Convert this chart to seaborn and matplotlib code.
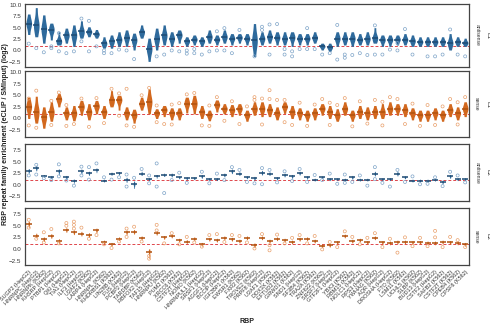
import pandas as pd
import matplotlib
matplotlib.use("Agg")
import matplotlib.pyplot as plt
import seaborn as sns

# RBP / cell line on the x axis
rbps = ["SUGP2 (HepG2)", "HNRNPC (HepG2)", "HNRNPK (K562)", "KHSRP (HepG2)", "PTBP1 (HepG2)",
        "QKI (HepG2)", "TIA1 (HepG2)", "ILF3 (HepG2)", "U2AF2 (K562)", "LARP4 (HepG2)",
        "HNRNPL (K562)", "KHDRBS1 (K562)", "LIN28B (K562)", "FUS (HepG2)", "PCBP2 (HepG2)",
        "TARDBP (K562)", "RBFOX2 (HepG2)", "TAF15 (HepG2)", "HNRNPU (K562)", "PUM2 (K562)",
        "XRCC6 (K562)", "CSTF2T (HepG2)", "NONO (K562)", "HNRNPUL1 (HepG2)", "SRSF1 (HepG2)",
        "AGGF1 (HepG2)", "BCCIP (HepG2)", "IGF2BP1 (K562)", "EWSR1 (K562)", "FXR2 (K562)",
        "TROVE2 (K562)", "PRPF8 (HepG2)", "U2AF1 (K562)", "DDX3X (K562)", "EFTUD2 (K562)",
        "GRWD1 (K562)", "SND1 (HepG2)", "SF3B4 (K562)", "TRA2A (K562)", "ZNF622 (K562)",
        "SRSF7 (HepG2)", "GTF2F1 (HepG2)", "YBX3 (K562)", "RBM15 (K562)", "NOLC1 (HepG2)",
        "RPS3 (HepG2)", "YWHAG (K562)", "AQR (HepG2)", "DROSHA (HepG2)", "FTO (K562)",
        "LSM11 (K562)", "UCHL5 (K562)", "SLBP (K562)", "BUD13 (HepG2)", "CSTF2 (HepG2)",
        "SAFB2 (K562)", "CSTF2T (K562)", "CPEB4 (K562)", "CPSF6 (K562)"]

# L1 antisense: median, lower / upper end of the dense body, loose points
l1_as_med = [5.9, 5.6, 4.7, 4.5, 2.1, 3.3, 3.3, 4.2, 4.1, 3.6, 1.6, 2.0, 2.4, 2.8, 2.2, 4.0, 0.3, 2.6, 3.3,
             2.6, 3.3, 2.0, 2.4, 2.0, 3.0, 2.4, 3.0, 2.6, 2.8, 2.6, 2.2, 2.6, 3.0, 2.8, 2.6, 2.8, 2.6, 2.6, 2.8, 0.9,
             0.7, 2.6, 2.6, 2.6, 2.4, 2.6, 2.8, 2.3, 2.3, 2.4, 2.4, 2.1, 1.9, 1.9, 1.9, 1.9, 1.7, 1.9, 1.7]
l1_as_lo = [3.5, 3.0, 1.6, 2.3, 1.2, 1.6, 0.9, 2.7, 3.0, 2.7, 0.5, 0.5, 0.9, 0.9, 0.1, 2.7, -2.4, 0.1, 1.2,
            0.9, 1.6, 0.9, 1.2, 0.9, 1.6, 1.2, 1.6, 1.2, 1.6, 1.2, -1.3, 1.2, 1.6, 1.2, 1.2, 0.9, 1.2, 1.2, 1.6, 0.1,
            -0.2, 0.9, 1.2, 0.9, 1.2, 1.2, 1.6, 0.9, 0.9, 1.2, 1.2, 0.9, 0.9, 0.9, 0.9, 0.9, 0.1, 0.9, 0.9]
l1_as_hi = [8.0, 9.4, 7.8, 6.0, 4.1, 4.9, 5.6, 6.5, 5.2, 4.6, 3.0, 3.4, 4.1, 4.5, 3.8, 5.6, 2.7, 4.9, 5.6,
            4.1, 4.5, 3.0, 3.4, 3.0, 4.5, 3.4, 4.5, 3.7, 3.7, 3.7, 5.9, 4.1, 4.5, 4.1, 4.1, 4.1, 3.7, 3.7, 4.1, 1.6,
            1.6, 4.1, 4.1, 4.1, 3.7, 4.1, 5.0, 3.4, 3.4, 3.4, 3.7, 3.4, 3.0, 3.0, 3.0, 3.0, 3.7, 3.0, 2.7]
l1_as_out = [[1.5], [0.5], [-0.4], [0.9, 0.5], [3.8, -0.2], [-0.6], [-0.2], [7.0, 2.0], [6.5, -0.2], [0.9],
             [0.0, -0.6], [-0.6], [0.2], [0.0], [-1.9], [], [], [-1.3], [-0.9], [0.0],
             [-0.2], [0.0, -0.7], [0.3, -0.6], [-0.9], [-0.2], [4.2, 0.0], [4.9, 0.0], [-0.6], [4.5], [],
             [-1.3], [5.2, 4.5], [5.7, -0.9], [5.8], [0.3, -0.9], [-0.2, -1.3], [0.3], [4.9, 0.3], [0.3], [-0.9],
             [-0.6], [5.6, -2.0], [-0.9, -1.6], [-1.0], [-0.6], [-1.0], [5.5, -0.9], [-0.9], [0.2], [1.6, 0.0],
             [4.7], [-0.9], [], [-1.3], [-1.3], [-0.9], [4.6], [-0.9], [-1.3]]

# L1 sense
l1_s_med = [2.5, 1.5, 0.3, 1.4, 4.1, 1.1, 1.1, 2.5, 1.4, 2.6, 1.4, 3.9, 3.9, 1.1, 0.7, 3.2, 3.6, 1.1, 1.8,
            1.1, 1.1, 3.2, 3.2, 1.4, 0.7, 2.9, 2.1, 1.8, 2.1, 0.7, 2.1, 2.1, 1.8, 1.1, 2.5, 1.4, 1.1, 0.7, 1.1, 2.1,
            1.4, 0.7, 2.1, 0.7, 1.4, 1.1, 1.4, 1.4, 2.1, 2.1, 1.8, 1.1, 0.7, 0.7, 1.1, 0.7, 1.8, 1.1, 2.1]
l1_s_lo = [0.0, -1.0, -2.1, -0.6, 2.5, -0.3, -0.5, 0.7, -0.3, 1.0, 0.0, 2.5, 1.8, -0.3, -1.0, 1.8, 1.0, 0.0, 0.4,
           -0.3, -0.3, 1.2, 1.0, 0.0, -0.5, 1.4, 1.0, 0.4, 0.7, -0.6, 0.7, 0.4, 0.4, -0.3, 1.1, 0.0, -0.3, -0.6, -0.3, 0.7,
           0.0, -0.6, 0.7, -0.6, 0.0, -0.3, 0.0, 0.0, 0.7, 0.7, 0.4, -0.3, -0.6, -0.6, -0.3, -0.6, 0.4, -0.3, 0.4]
l1_s_hi = [4.6, 4.8, 2.5, 3.6, 5.4, 2.5, 2.8, 3.9, 3.2, 3.9, 2.8, 6.0, 5.0, 2.5, 2.0, 4.6, 6.4, 2.1, 2.8,
           2.3, 2.3, 4.6, 5.0, 2.8, 1.8, 4.0, 3.2, 3.0, 3.2, 1.8, 3.6, 3.6, 3.2, 2.5, 3.6, 2.8, 2.3, 1.8, 2.3, 3.2,
           2.8, 2.1, 3.6, 1.8, 2.8, 2.5, 2.8, 3.2, 3.6, 3.2, 3.2, 2.3, 1.8, 1.8, 2.3, 1.8, 3.2, 2.5, 3.6]
l1_s_out = [[4.3, -1.5], [6.0, -2.0], [], [3.8, -1.4], [5.6], [2.9, -1.6], [-1.2], [4.3], [-1.8], [4.4],
            [-1.0], [6.4], [5.4, 0.6], [6.4, -1.5], [-1.8], [5.0], [6.6], [2.8, -0.8], [-1.2], [3.0, -1.3],
            [3.3], [5.2], [5.5], [-1.5], [2.8, -1.6], [4.6], [-0.5], [3.7], [-1.2], [2.6],
            [4.6, 4.0], [4.3, -1.3], [6.1, 4.2], [4.0], [4.0, -0.8], [-1.4], [3.4], [-1.6], [3.0], [4.2],
            [3.4, -1.4], [2.9], [4.4], [-1.7], [3.7], [-1.1], [4.0], [3.6, -1.5], [4.6], [4.2],
            [-1.2], [3.2], [-1.6], [2.9], [-1.4], [2.6], [4.2], [3.5, -1.3], [4.6]]

# L2 antisense
l2_as_med = [3.0, 3.6, 1.9, 1.6, 2.9, 1.6, 0.9, 2.9, 2.5, 3.2, 0.9, 2.4, 2.5, 1.1, 0.1, 2.4, 1.2, 1.9, 2.1,
             2.1, 1.6, 1.4, 1.4, 1.8, 1.2, 1.2, 2.1, 2.9, 2.4, 1.6, 1.4, 2.6, 2.4, 1.4, 2.1, 1.8, 2.5, 1.6, 1.1, 1.6,
             1.2, 1.2, 1.1, 1.6, 1.1, 1.1, 2.4, 1.2, 1.2, 2.4, 1.6, 0.9, 0.9, 0.9, 1.1, 0.6, 1.8, 1.2, 1.2]
l2_as_lo = [2.5, 3.0, 1.6, 1.3, 2.1, 1.1, 0.3, 2.4, 2.0, 2.6, 0.6, 2.0, 2.1, 0.5, -0.8, 2.0, 0.9, 1.4, 1.8,
            1.7, 1.3, 1.1, 1.1, 1.4, 0.9, 0.9, 1.7, 2.4, 2.0, 1.3, 1.0, 2.1, 2.0, 1.1, 1.7, 1.4, 2.1, 1.2, 0.8, 1.3,
            0.9, 0.9, 0.8, 1.2, 0.8, 0.8, 1.9, 0.9, 0.9, 1.9, 1.3, 0.6, 0.6, 0.6, 0.8, 0.2, 1.4, 0.9, 0.9]
l2_as_hi = [3.5, 4.2, 2.2, 2.0, 3.4, 2.0, 1.2, 3.4, 2.9, 3.6, 1.2, 2.7, 2.8, 1.6, 0.8, 2.9, 1.5, 2.2, 2.5,
            2.5, 1.9, 1.7, 1.7, 2.2, 1.5, 1.5, 2.5, 3.4, 2.8, 1.9, 1.8, 3.1, 2.8, 1.7, 2.5, 2.2, 2.9, 1.9, 1.4, 1.9,
            1.5, 1.5, 1.4, 2.0, 1.4, 1.4, 2.9, 1.5, 1.5, 2.9, 1.9, 1.2, 1.2, 1.2, 1.4, 1.0, 2.2, 1.5, 1.5]
l2_as_out = [[2.0], [2.2, 4.3], [1.4], [1.0], [4.4, 1.8], [0.9], [-0.2], [3.9, 2.0], [3.8, 1.1], [4.6],
             [1.6], [1.1], [1.6], [-0.4, 2.2], [1.5], [3.4], [0.3, 2.0], [4.6, -0.4], [-1.8], [1.0],
             [2.6], [0.4], [], [2.8], [0.3], [2.4], [1.0], [3.8], [3.2], [0.6],
             [0.3], [3.6, 0.1], [3.2], [0.5], [2.9], [0.8], [3.4], [0.6], [2.1], [1.0],
             [2.4], [0.2], [2.2, 0.4], [0.6], [2.0], [-0.2], [3.8, 1.2], [0.4], [-0.4], [3.2],
             [0.6], [1.8], [0.1], [0.2], [1.6], [-0.3], [2.8], [2.0], [0.5]]

# L2 sense
l2_s_med = [5.4, 2.9, 2.1, 2.8, 1.7, 4.1, 3.6, 3.3, 3.0, 4.0, 1.5, 1.0, 2.2, 3.6, 3.7, 2.4, -0.6, 3.5, 2.5,
            2.8, 1.9, 1.6, 2.2, 1.0, 2.1, 1.9, 2.4, 2.1, 1.7, 2.4, 0.8, 2.4, 1.7, 2.2, 1.9, 1.5, 2.1, 2.2, 1.7, 0.7,
            0.8, 1.4, 2.8, 1.7, 1.9, 1.4, 2.4, 1.4, 1.3, 1.5, 1.5, 1.4, 1.4, 1.3, 1.3, 1.5, 1.4, 1.3, 1.0]
l2_s_lo = [4.6, 2.4, 1.6, 2.3, 1.2, 3.6, 3.1, 2.8, 2.5, 3.5, 1.1, 0.6, 1.8, 3.1, 3.2, 2.0, -2.1, 3.0, 2.1,
           2.4, 1.5, 1.2, 1.8, 0.6, 1.7, 1.5, 2.0, 1.7, 1.3, 2.0, 0.3, 2.0, 1.3, 1.8, 1.5, 1.1, 1.7, 1.8, 1.3, 0.3,
           0.4, 1.0, 2.4, 1.3, 1.5, 1.0, 2.0, 1.0, 0.9, 1.1, 1.1, 1.0, 1.0, 0.9, 0.9, 1.1, 1.0, 0.9, 0.6]
l2_s_hi = [6.0, 3.4, 2.6, 3.3, 2.2, 4.6, 4.1, 3.8, 3.5, 4.5, 1.9, 1.4, 2.6, 4.1, 4.2, 2.8, 0.0, 4.0, 2.9,
           3.2, 2.3, 2.0, 2.6, 1.4, 2.5, 2.3, 2.8, 2.5, 2.1, 2.8, 1.3, 2.8, 2.1, 2.6, 2.3, 1.9, 2.5, 2.6, 2.1, 1.1,
           1.2, 1.8, 3.2, 2.1, 2.3, 1.8, 2.8, 1.8, 1.7, 1.9, 1.9, 1.8, 1.8, 1.7, 1.7, 1.9, 1.8, 1.7, 1.4]
l2_s_out = [[6.3, 4.6], [2.2], [3.6, 1.4], [4.3], [1.2], [5.0, 5.6], [5.9, 5.2, 4.4], [4.6], [2.2], [3.0],
            [1.0], [0.2], [1.6], [4.4, 2.6], [4.8], [1.6], [-1.5, -2.1], [5.2, 4.0], [1.2], [3.4],
            [1.0], [2.6], [1.4], [0.5], [3.0], [3.2], [1.5], [3.0], [2.8], [1.4],
            [0.1], [3.2], [0.8, -0.3], [3.1], [1.2], [2.4], [3.0], [1.2], [2.8], [-0.1],
            [1.5], [0.4], [3.8], [2.6], [1.0], [2.4], [3.4], [0.4], [2.2], [-0.8],
            [2.5], [0.6], [2.4], [0.6], [3.9, 2.5], [0.4], [2.6], [1.9], [0.4]]

blue, blue_dark, blue_light = "#2E6A9C", "#1E4B74", "#7EA4C8"
orange, orange_dark, orange_light = "#D2681E", "#B1520F", "#E9A06C"


def body_frame(med, lo, hi):
    # the median is given extra weight so the body tapers to the ends
    rows = []
    for name, m, a, b in zip(rbps, med, lo, hi):
        for v in (a, m, m, m, b):
            rows.append((name, v))
    return pd.DataFrame(rows, columns=["rbp", "val"])


def out_frame(out):
    rows = [(name, v) for name, vals in zip(rbps, out) for v in vals]
    return pd.DataFrame(rows, columns=["rbp", "val"])


sns.set_theme(style="white")
plt.rcParams["font.family"] = ["Liberation Sans", "DejaVu Sans"]

fig = plt.figure(figsize=(4.9, 3.31), dpi=100)

panels = [
    (l1_as_med, l1_as_lo, l1_as_hi, l1_as_out, blue, blue_dark, blue_light, 0.75, (-3.6, 10.2),
     [-2.5, 0, 2.5, 5, 7.5, 10], "antisense", "L1", [0.051, 0.798, 0.906, 0.190]),
    (l1_s_med, l1_s_lo, l1_s_hi, l1_s_out, orange, orange_dark, orange_light, 0.75, (-4.0, 10.2),
     [-2.5, 0, 2.5, 5, 7.5, 10], "sense", "L1", [0.051, 0.586, 0.906, 0.199]),
    (l2_as_med, l2_as_lo, l2_as_hi, l2_as_out, blue, blue_dark, blue_light, 0.22, (-3.5, 8.8),
     [-2.5, 0, 2.5, 5, 7.5], "antisense", "L2", [0.051, 0.393, 0.906, 0.172]),
    (l2_s_med, l2_s_lo, l2_s_hi, l2_s_out, orange, orange_dark, orange_light, 0.22, (-3.5, 8.8),
     [-2.5, 0, 2.5, 5, 7.5], "sense", "L2", [0.051, 0.199, 0.906, 0.172]),
]

for k, (med, lo, hi, out, col, dark, light, w, ylim, yticks, strand, fam, box) in enumerate(panels):
    ax = fig.add_axes(box)
    body = body_frame(med, lo, hi)
    ax.axhline(1, color="#E0474C", ls=(0, (3, 2)), lw=0.7, zorder=0)
    sns.violinplot(data=body, x="rbp", y="val", order=rbps, color=col, inner=None, cut=0,
                   density_norm="width", width=w, linewidth=0, saturation=1, bw_adjust=0.9, ax=ax)
    n0 = len(ax.collections)
    sns.stripplot(data=out_frame(out), x="rbp", y="val", order=rbps, jitter=False, size=2.2,
                  color=light, edgecolor=light, linewidth=0.5, ax=ax)
    for c in ax.collections[n0:]:
        c.set_facecolor("none")
    sns.pointplot(data=body, x="rbp", y="val", order=rbps, estimator="median", errorbar=None,
                  linestyle="none", marker="_", markersize=5 if w < 0.5 else 4.2,
                  markeredgewidth=1.1, color=dark, ax=ax)
    ax.set_ylim(*ylim)
    ax.set_yticks(yticks)
    ax.set_xlim(-0.5, len(rbps) - 0.5)
    ax.set_xlabel("")
    ax.set_ylabel("")
    for s in ax.spines.values():
        s.set_color("#444444")
        s.set_linewidth(0.9)
    ax.tick_params(axis="y", labelsize=4.5, length=1.5, width=0.5, pad=1, colors="#333333")
    if k < 3:
        ax.set_xticks([])
    else:
        ax.tick_params(axis="x", length=2, width=0.5, pad=1, colors="#888888", labelcolor="#333333")
        ax.set_xticklabels(rbps, rotation=45, ha="right", rotation_mode="anchor", fontsize=4.0)
    ax.text(1.012, 0.5, strand, transform=ax.transAxes, rotation=-90, fontsize=3.6,
            va="center", ha="left", color="#333333")
    ax.text(1.038, 0.5, fam, transform=ax.transAxes, rotation=-90, fontsize=4.5,
            va="center", ha="left", color="#333333")

fig.text(0.012, 0.594, "RBP repeat family enrichment (eCLIP / SMInput) (log2)", rotation=90,
         fontsize=5, fontweight="bold", va="center", ha="center", color="#222222")
fig.text(0.504, 0.03, "RBP", fontsize=5, fontweight="bold", ha="center", va="center", color="#222222")

fig.savefig("out.png", dpi=100)
